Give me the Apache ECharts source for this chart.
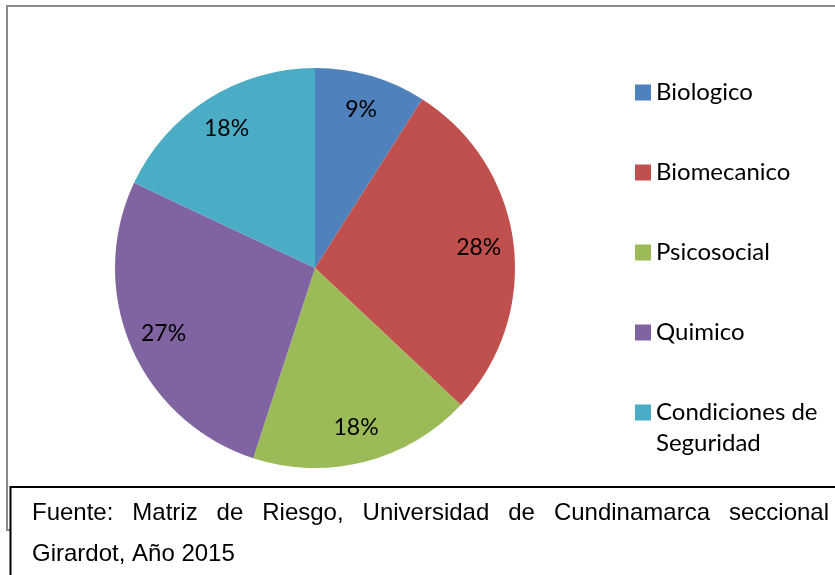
<!DOCTYPE html>
<html>
<head>
<meta charset="utf-8">
<script src="https://cdn.jsdelivr.net/npm/echarts@6/dist/echarts.min.js"></script>
<style>
  html, body { margin: 0; padding: 0; background: #fff; }
  #chart { width: 835px; height: 575px; }
</style>
</head>
<body>
<div id="chart"></div>
<script>
// categorias y porcentajes
var categorias = ['Biologico', 'Biomecanico', 'Psicosocial', 'Quimico', 'Condiciones de Seguridad'];
var porcentajes = [9, 28, 18, 27, 18];
var colores = ['#4F81BD', '#C0504D', '#9BBB59', '#8064A2', '#4BACC6'];
var fuenteLinea1 = 'Fuente: Matriz de Riesgo, Universidad de Cundinamarca seccional';
var fuenteLinea2 = 'Girardot, Año 2015';

var datos = categorias.map(function (c, i) {
  return { name: c, value: porcentajes[i], itemStyle: { color: colores[i] } };
});

// texto justificado de la primera linea
var fuenteFont = "24px 'Liberation Sans', Arial, sans-serif";
function palabrasJustificadas(texto, x0, x1, y) {
  var ctx = document.createElement('canvas').getContext('2d');
  ctx.font = fuenteFont;
  var palabras = texto.split(' ');
  var anchos = palabras.map(function (p) { return ctx.measureText(p).width; });
  var total = anchos.reduce(function (a, b) { return a + b; }, 0);
  var hueco = (x1 - x0 - total) / (palabras.length - 1);
  var x = x0, out = [];
  palabras.forEach(function (p, i) {
    out.push({
      type: 'text', left: x, top: y, z: 20,
      style: { text: p, font: fuenteFont, fill: '#000' }
    });
    x += anchos[i] + hueco;
  });
  return out;
}

var textoLeyenda = {
  fontFamily: 'Lato, sans-serif',
  fontSize: 24,
  lineHeight: 31,
  color: '#000'
};

var myChart = echarts.init(document.getElementById('chart'));
myChart.setOption({
  animation: false,
  legend: [
    {
      orient: 'vertical',
      left: 635,
      top: 77,
      padding: 0,
      icon: 'rect',
      itemWidth: 16,
      itemHeight: 16,
      itemGap: 49,
      data: categorias.slice(0, 4),
      textStyle: textoLeyenda
    },
    {
      // la ultima entrada ocupa dos lineas, el cuadro va con la primera
      orient: 'vertical',
      left: 635,
      top: 366,
      padding: 0,
      icon: 'rect',
      itemWidth: 16,
      itemHeight: 16,
      data: categorias.slice(4),
      formatter: function (n) { return '\n' + n.replace(' de ', ' de\n'); },
      textStyle: textoLeyenda
    }
  ],
  graphic: [
    {
      type: 'rect', z: 1, silent: true,
      shape: { x: 7, y: 6, width: 900, height: 524 },
      style: { fill: 'none', stroke: '#8a8a8a', lineWidth: 2 }
    },
    {
      type: 'rect', z: 10, silent: true,
      shape: { x: 10.5, y: 487, width: 900, height: 200 },
      style: { fill: '#fff', stroke: '#000', lineWidth: 2 }
    },
    {
      type: 'text', left: 32, top: 542, z: 20,
      style: { text: fuenteLinea2, font: fuenteFont, fill: '#000' }
    }
  ].concat(palabrasJustificadas(fuenteLinea1, 32, 829, 501)),
  series: [
    {
      type: 'pie',
      center: [315, 268],
      radius: [0, 200],
      startAngle: 90,
      clockwise: true,
      silent: true,
      label: { show: false },
      labelLine: { show: false },
      itemStyle: { borderWidth: 0 },
      data: datos
    },
    {
      // solo etiquetas, anillo transparente
      type: 'pie',
      center: [315, 268],
      radius: [124, 200],
      startAngle: 90,
      clockwise: true,
      silent: true,
      itemStyle: { color: 'rgba(0,0,0,0)', borderWidth: 0 },
      label: {
        show: true,
        position: 'inside',
        formatter: '{c}%',
        fontFamily: 'Lato, sans-serif',
        fontSize: 23,
        color: '#000'
      },
      labelLine: { show: false },
      data: categorias.map(function (c, i) { return { name: c, value: porcentajes[i] }; })
    }
  ]
});
</script>
</body>
</html>
